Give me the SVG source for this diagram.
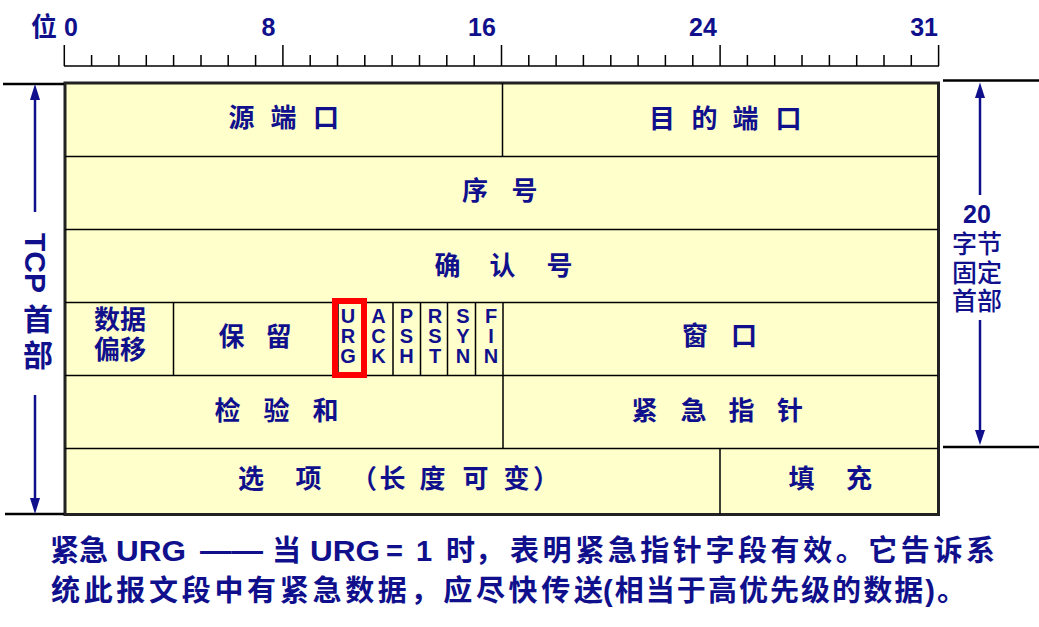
<svg xmlns="http://www.w3.org/2000/svg" width="1039" height="627" viewBox="0 0 1039 627">
<style>
.t{font-family:"Liberation Sans","Noto Sans CJK SC",sans-serif;font-weight:bold;fill:#10108c}
.lbl{font-size:26px;text-anchor:middle}
.flag{font-size:20px;text-anchor:middle}
.num{font-size:25px}
.note{font-size:29px}
.rn{font-family:"Liberation Sans","Noto Sans CJK SC",sans-serif;font-weight:500;fill:#10108c;font-size:25px;text-anchor:middle}
.grid{stroke:#000;stroke-width:1.5;fill:none}
.tick{stroke:#000;stroke-width:1.5}
.dim{stroke:#000;stroke-width:2.5}
.arr{stroke:#10108c;stroke-width:2.5}
.ah{fill:#10108c}
</style>
<rect width="1039" height="627" fill="#fff"/>
<g id="ruler">
<text class="t" x="31" y="36" font-size="26">位</text>
<text class="t num" x="64" y="36">0</text>
<text class="t num" x="268.5" y="36" text-anchor="middle">8</text>
<text class="t num" x="482" y="36" text-anchor="middle">16</text>
<text class="t num" x="703" y="36" text-anchor="middle">24</text>
<text class="t num" x="938" y="36" text-anchor="end">31</text>
<line class="tick" x1="64" y1="66" x2="939" y2="66"/>
<path class="tick" d="M64.3,45V66 M282.9,45V66 M501.5,45V66 M720.1,45V66 M938.6,45V66
M91.6,55V66 M118.9,55V66 M146.3,55V66 M173.6,55V66 M201,55V66 M228.2,55V66 M255.6,55V66
M310.2,55V66 M337.5,55V66 M364.8,55V66 M392.1,55V66 M419.5,55V66 M446.8,55V66 M474.2,55V66
M528.8,55V66 M556.1,55V66 M583.4,55V66 M610.8,55V66 M638.1,55V66 M665.4,55V66 M692.8,55V66
M747.4,55V66 M774.7,55V66 M802,55V66 M829.4,55V66 M856.7,55V66 M884,55V66 M911.3,55V66"/>
</g>
<g id="header-box">
<rect x="65" y="83" width="873.5" height="431.5" fill="#ffffcc" stroke="#222" stroke-width="3"/>
</g>
<g id="grid-lines">
<path class="grid" d="M65,156.5H938 M65,229.5H938 M65,302.5H938 M65,375.5H938 M65,448.5H938
M502.5,83V156.5 M173.5,302.5V375.5 M338,302.5V375.5 M366,302.5V375.5 M393,302.5V375.5 M420.5,302.5V375.5 M447.5,302.5V375.5 M475.5,302.5V375.5 M503,302.5V375.5
M503,375.5V448.5 M720,448.5V514"/>
</g>
<g id="src-port"><text class="t lbl" x="241.5 283.5 326" y="127">源端口</text></g>
<g id="dst-port"><text class="t lbl" x="662 704.5 745.5 788.5" y="128">目的端口</text></g>
<g id="seq"><text class="t lbl" x="475 524.5" y="200">序号</text></g>
<g id="ack-num"><text class="t lbl" x="447.5 502.5 559.5" y="275">确认号</text></g>
<g id="data-offset">
<text class="t lbl" x="120" y="329">数据</text>
<text class="t lbl" x="120" y="359">偏移</text>
</g>
<g id="reserved"><text class="t lbl" x="231.5 278.5" y="346">保留</text></g>
<g id="flags">
<text class="t flag" x="348" y="323">U</text><text class="t flag" x="348" y="343">R</text><text class="t flag" x="348" y="363">G</text>
<text class="t flag" x="378.5" y="323">A</text><text class="t flag" x="378.5" y="343">C</text><text class="t flag" x="378.5" y="363">K</text>
<text class="t flag" x="406.5" y="323">P</text><text class="t flag" x="406.5" y="343">S</text><text class="t flag" x="406.5" y="363">H</text>
<text class="t flag" x="435" y="323">R</text><text class="t flag" x="435" y="343">S</text><text class="t flag" x="435" y="363">T</text>
<text class="t flag" x="463" y="323">S</text><text class="t flag" x="463" y="343">Y</text><text class="t flag" x="463" y="363">N</text>
<text class="t flag" x="491" y="323">F</text><text class="t flag" x="491" y="343">I</text><text class="t flag" x="491" y="363">N</text>
</g>
<g id="urg-highlight">
<rect x="335" y="301" width="29" height="74" fill="none" stroke="#ff0000" stroke-width="6"/>
</g>
<g id="window"><text class="t lbl" x="695 744" y="345">窗口</text></g>
<g id="checksum"><text class="t lbl" x="227.5 276.5 325.5" y="420">检验和</text></g>
<g id="urgent-ptr"><text class="t lbl" x="644.5 693.5 741.5 790" y="420">紧急指针</text></g>
<g id="options"><text class="t lbl" x="251 308.5 364 392.5 432.5 475.5 516.5 546" y="488">选项（长度可变）</text></g>
<g id="padding"><text class="t lbl" x="801.5 859" y="488">填充</text></g>
<g id="connectors">
<line class="dim" x1="3" y1="84" x2="64" y2="84"/>
<line class="dim" x1="5" y1="514" x2="64" y2="514"/>
<line class="dim" x1="943" y1="80.5" x2="1039" y2="80.5"/>
<line class="dim" x1="943" y1="447" x2="1039" y2="447"/>
<line class="arr" x1="35" y1="212" x2="35" y2="96"/>
<polygon class="ah" points="35,84 30,100 40,100"/>
<line class="arr" x1="35" y1="395" x2="35" y2="502"/>
<polygon class="ah" points="35,514 30,498 40,498"/>
<line class="arr" x1="980" y1="195" x2="980" y2="95"/>
<polygon class="ah" points="980,82.5 975,98 985,98"/>
<line class="arr" x1="980" y1="320" x2="980" y2="433"/>
<polygon class="ah" points="980,445 975,430 985,430"/>
</g>
<g id="tcp-header-label">
<text class="t" font-size="30" transform="translate(25,233) rotate(90)">TCP</text>
<text class="t" font-size="30" x="38" y="330" text-anchor="middle">首</text>
<text class="t" font-size="30" x="38" y="366" text-anchor="middle">部</text>
</g>
<g id="fixed-header-label">
<text class="t" font-size="25" x="977" y="223" text-anchor="middle">20</text>
<text class="rn" x="977" y="253">字节</text>
<text class="rn" x="977" y="282">固定</text>
<text class="rn" x="977" y="310">首部</text>
</g>
<g id="note">
<text class="t note" x="50" y="561">紧急</text>
<text class="t note" x="116" y="561" textLength="70" lengthAdjust="spacingAndGlyphs">URG</text>
<text class="t note" x="200" y="561" textLength="63" lengthAdjust="spacingAndGlyphs">——</text>
<text class="t note" x="272" y="561">当</text>
<text class="t note" x="310" y="561" textLength="70" lengthAdjust="spacingAndGlyphs">URG</text>
<text class="t note" x="386" y="561">=</text>
<text class="t note" x="416" y="561">1</text>
<text class="t note" x="446" y="561">时，</text>
<text class="t note" x="510" y="561" textLength="485" lengthAdjust="spacing">表明紧急指针字段有效。它告诉系</text>
<text class="t note" x="51" y="601" textLength="552" lengthAdjust="spacing">统此报文段中有紧急数据，应尽快传送</text>
<text class="t note" x="603" y="601" textLength="363" lengthAdjust="spacing">(相当于高优先级的数据)。</text>
</g>
</svg>
